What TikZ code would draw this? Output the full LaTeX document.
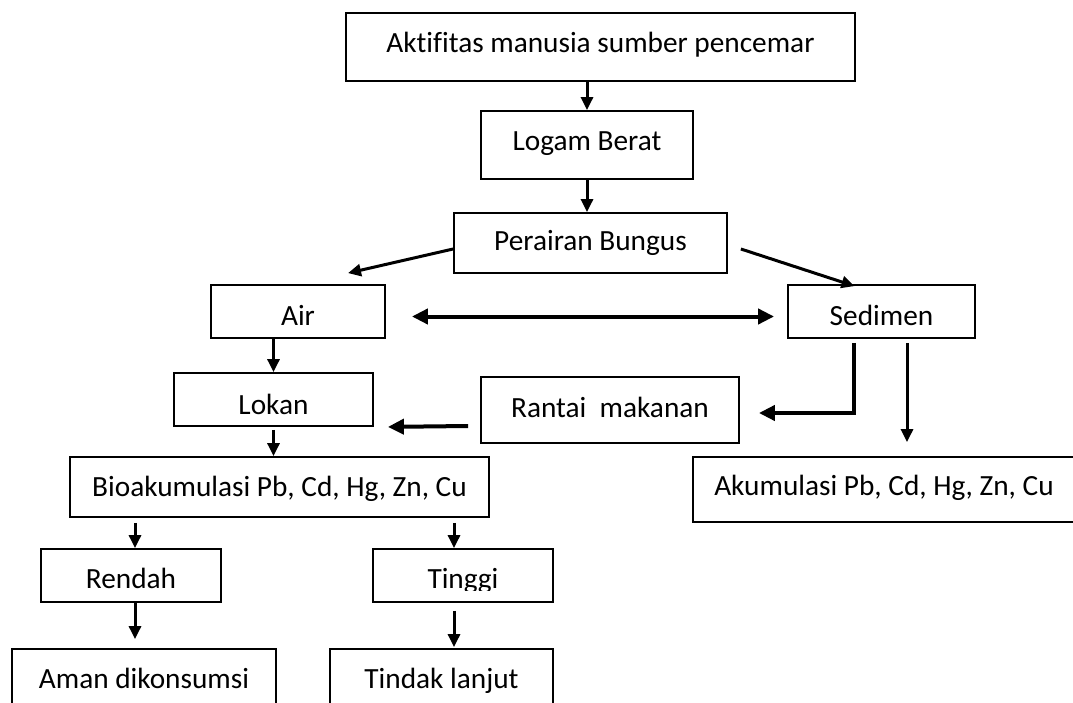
\documentclass[tikz,border=0pt]{standalone}
\usepackage{fontspec}
\setmainfont[Ligatures=NoCommon]{Carlito}
\usepackage{tikz}
\usetikzlibrary{arrows.meta,calc}
\tikzset{
  flowtext/.style={font=\fontsize{29.3}{35}\selectfont},
  flowbox/.style={draw=black,line width=1.8pt,rectangle,inner sep=0pt,text depth=0pt,flowtext},
  flowarrow/.style={-{Triangle[length=13pt,width=12pt]},line width=3pt,draw=black},
  flowthick/.style={-{Triangle[length=16pt,width=15pt]},line width=4pt,draw=black},
  flowboth/.style={{Triangle[length=16pt,width=15pt]}-{Triangle[length=16pt,width=15pt]},line width=4pt,draw=black}
}
\begin{document}
\begin{tikzpicture}[x=1pt,y=-1pt]
  \clip (0,0) rectangle (1073,703);
  % boxes, top to bottom
  \node[flowbox,minimum width=509pt,minimum height=68pt,text height=11.4pt] (aktifitas) at (600.5,47) {Aktifitas manusia sumber pencemar};
  \node[flowbox,minimum width=212pt,minimum height=68pt,text height=11.4pt] (logam) at (587,145) {Logam Berat};
  \node[flowbox,minimum width=273pt,minimum height=60pt,text height=15.4pt] (perairan) at (590.5,243) {Perairan Bungus};
  \node[flowbox,minimum width=174pt,minimum height=53pt,text height=28pt] (air) at (298,311.5) {Air};
  \node[flowbox,minimum width=187pt,minimum height=53pt,text height=27pt] (sedimen) at (881.5,311.5) {Sedimen};
  \node[flowbox,minimum width=199pt,minimum height=53pt,text height=29pt] (lokan) at (273.5,399.5) {Lokan};
  \node[flowbox,minimum width=258pt,minimum height=66pt,text height=14pt] (rantai) at (610,410) {Rantai\ \ makanan};
  \node[flowbox,minimum width=419pt,minimum height=60pt,text height=18pt] (bio) at (279.5,487) {Bioakumulasi Pb, Cd, Hg, Zn, Cu};
  \node[flowbox,minimum width=382pt,minimum height=65pt,text height=12pt] (akumulasi) at (884,489.5) {Akumulasi Pb, Cd, Hg, Zn, Cu};
  \node[flowbox,minimum width=180pt,minimum height=53pt,text height=25pt] (rendah) at (131,575.5) {Rendah};
  \node[flowbox,minimum width=180pt,minimum height=53pt] (tinggi) at (463,575.5) {};
  \begin{scope}
    \clip (tinggi.north west) rectangle ([yshift=12pt]tinggi.south east);
    \node[flowtext,anchor=base,inner sep=0pt] (tinggitext) at ([yshift=-12.5pt]tinggi.center) {Tinggi};
  \end{scope}
  \node[flowbox,minimum width=264pt,minimum height=71pt,text height=7pt] (aman) at (144,684.5) {Aman dikonsumsi};
  \node[flowbox,minimum width=223pt,minimum height=71pt,text height=7pt] (tindak) at (441.5,684.5) {Tindak lanjut};
  % connectors
  \draw[flowarrow] (logam.north |- aktifitas.south) -- (logam.north);
  \draw[flowarrow] (logam.south) -- (logam.south |- perairan.north);
  \draw[flowarrow] ([yshift=-6pt]perairan.west) -- ([xshift=50pt,yshift=11pt]air.north);
  \draw[flowarrow] ([xshift=13pt,yshift=-6pt]perairan.east) -- ([xshift=-27pt,yshift=-2pt]sedimen.north);
  \draw[flowboth] ([xshift=26pt,yshift=-5pt]air.east) -- ([xshift=-13pt,yshift=-5pt]sedimen.west);
  \draw[flowarrow] (lokan.north |- air.south) -- (lokan.north);
  \draw[flowarrow] ([yshift=-3pt]lokan.south) -- (lokan.south |- bio.north);
  \draw[flowthick] ([xshift=-12pt,yshift=-16pt]rantai.west) -- ([xshift=14pt]lokan.south east);
  \draw[flowthick] ([xshift=-27.5pt,yshift=-4pt]sedimen.south) |- ([xshift=19pt,yshift=-3pt]rantai.east);
  \draw[flowarrow] ([xshift=25.5pt,yshift=-4pt]sedimen.south) -- ([xshift=23pt,yshift=14pt]akumulasi.north);
  \draw[flowarrow] ([xshift=4pt,yshift=-5pt]rendah.north |- bio.south) -- ([xshift=4pt]rendah.north);
  \draw[flowarrow] ([xshift=-9pt,yshift=-5pt]tinggi.north |- bio.south) -- ([xshift=-9pt]tinggi.north);
  \draw[flowarrow] ([xshift=4pt]rendah.south) -- ([xshift=4pt,yshift=9pt]rendah.south |- aman.north);
  \draw[flowarrow] ([xshift=-9pt,yshift=-8pt]tinggi.south) -- ([xshift=-9pt,yshift=1pt]tinggi.south |- tindak.north);
\end{tikzpicture}
\end{document}
